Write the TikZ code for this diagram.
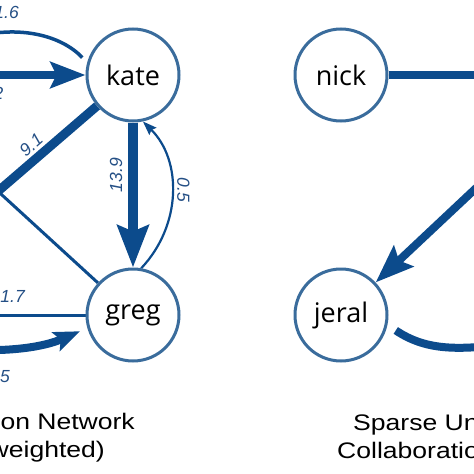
\documentclass[tikz,border=0pt]{standalone}
\usepackage{fontspec}
\setmainfont{Liberation Sans}
\newfontfamily\nodefont{Open Sans}
\usetikzlibrary{arrows.meta}
\definecolor{edgeblue}{HTML}{0C4B8C}
\definecolor{ringblue}{HTML}{3A6C9C}
\definecolor{labelblue}{HTML}{244F85}
\pgfdeclarelayer{bg}
\pgfsetlayers{bg,main}
\begin{document}
\begin{tikzpicture}[x=1pt,y=-1pt,
  person/.style={circle, draw=ringblue, line width=3pt, fill=white,
    minimum size=92pt, inner sep=0pt, text=black,
    font=\nodefont\fontsize{27}{30}\selectfont},
  wlabel/.style={text=labelblue, inner sep=0pt,
    font=\fontsize{17.5}{20}\selectfont\itshape},
  title/.style={text=black, inner sep=0pt,
    font=\fontsize{22.5}{26}\selectfont},
  thinedge/.style={draw=edgeblue, line width=3pt},
  thickedge/.style={draw=edgeblue, line width=9pt},
  bigtip/.style={-{Stealth[length=35pt,width=26pt,inset=6pt]}},
]
\useasboundingbox (0,0) rectangle (474,474);
\clip (0,0) rectangle (474,474);

% nodes
\node[person] (kate) at (133,75) {kate};
\node[person] (greg) at (133,315) {greg};
\node[person] (nick) at (341,75) {nick};
\node[person] (jeral) at (341,315) {jeral};

% free ends (off the visible crop)
\coordinate (ltop) at (-30,38);
\coordinate (lmid) at (-20,75);
\coordinate (ldiag) at (-40,224);
\coordinate (lthin) at (-10,184);
\coordinate (lgreg) at (-20,315);
\coordinate (lbot) at (-30,350);
\coordinate (rnick) at (500,75);
\coordinate (rdiag) at (490,175);
\coordinate (rbot) at (500,345);

\begin{pgfonlayer}{bg}
% left graph
\draw[thinedge, line width=3.5pt, shorten >=7pt]
  (ltop) .. controls (20,24) and (62,36) .. (kate.165);
\draw[thickedge, line width=8pt, bigtip] (lmid) -- (kate);
\draw[thickedge] (kate) -- (ldiag);
\draw[thinedge] (lthin) -- (greg);
\draw[thickedge, line width=10pt,
  -{Stealth[length=42pt,width=31pt,inset=6pt]}] (kate) -- (greg);
\draw[draw=edgeblue, line width=2.2pt,
  -{Stealth[length=14pt,width=10pt,inset=2pt]}]
  (greg.80) .. controls (182,225) and (182,160) .. (kate.-78);
\draw[thinedge] (lgreg) -- (greg);
\draw[thickedge, line width=8pt, shorten >=8pt,
  -{Stealth[length=26pt,width=20pt,inset=5pt]}]
  (lbot) .. controls (30,352) and (55,342) .. (greg.196);

% right graph
\draw[thickedge, line width=8pt] (nick) -- (rnick);
\draw[thickedge, line width=8pt,
  -{Stealth[length=38pt,width=28pt,inset=6pt]}] (rdiag) -- (jeral);
\draw[thickedge, line width=8pt, shorten <=10pt]
  (jeral.-12) .. controls (425,350) and (455,350) .. (rbot);
\end{pgfonlayer}

% weight labels
\node[wlabel, anchor=east] (w16) at (19,12) {1.6};
\node[wlabel, anchor=east] (w42) at (3.5,93) {4.2};
\node[wlabel, rotate=41] (w91) at (31,145) {9.1};
\node[wlabel, rotate=90] (w139) at (116,175) {13.9};
\node[wlabel, rotate=-90] (w05) at (183.5,190) {0.5};
\node[wlabel, anchor=east] (w17) at (25,296) {1.7};
\node[wlabel, anchor=east] (w25) at (10,376) {2.5};

% titles
\node[title, anchor=base east] (t1a) at (135,429) {\scalebox{1.18}[1]{on Network}};
\node[title, anchor=base east] (t1b) at (105,457) {\scalebox{1.18}[1]{(weighted)}};
\node[title, anchor=base west] (t2a) at (353,430) {\scalebox{1.18}[1]{Sparse Unweighted}};
\node[title, anchor=base west] (t2b) at (337,458) {\scalebox{1.18}[1]{Collaboration Network}};
\end{tikzpicture}
\end{document}
